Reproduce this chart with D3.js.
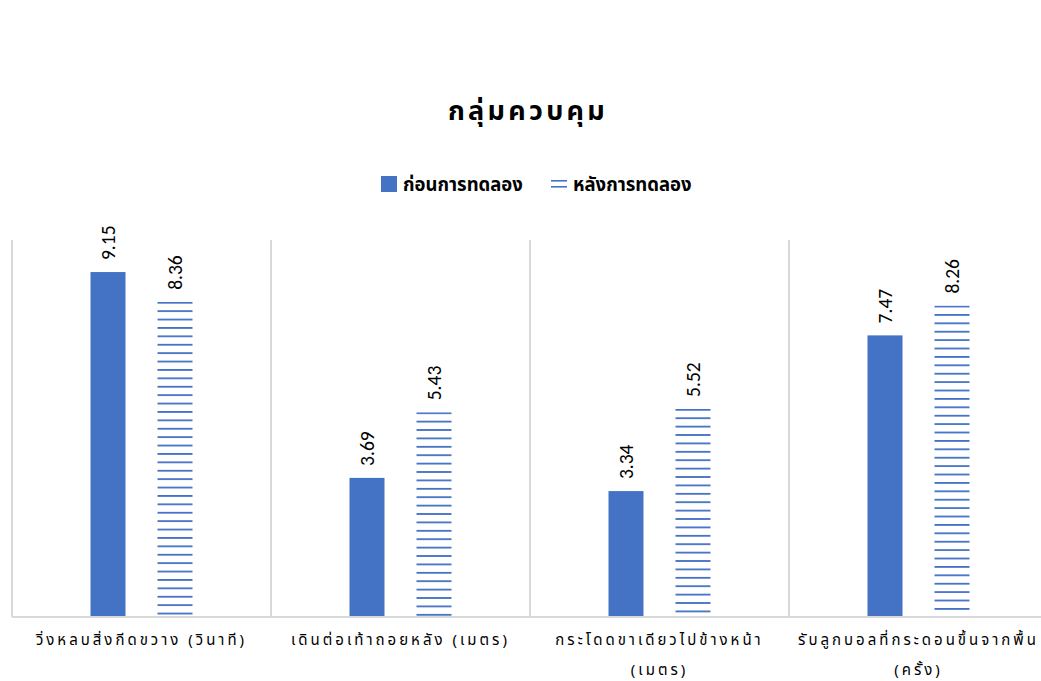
<!DOCTYPE html>
<html lang="th">
  <head>
    <meta charset="UTF-8" />
    <script src="https://cdn.jsdelivr.net/npm/d3@7"></script>
    <style>
      * {
        margin: 0;
        padding: 0;
      }
      body {
        background: #fff;
      }
      #container svg {
        display: block;
      }
    </style>
    <title>กลุ่มควบคุม</title>
  </head>
  <body>
    <div id="container"></div>
  </body>
  <script>
    const title = 'กลุ่มควบคุม';
    const categories = [
      ['วิ่งหลบสิ่งกีดขวาง (วินาที)'],
      ['เดินต่อเท้าถอยหลัง (เมตร)'],
      ['กระโดดขาเดียวไปข้างหน้า', '(เมตร)'],
      ['รับลูกบอลที่กระดอนขึ้นจากพื้น', '(ครั้ง)'],
    ];
    const seriesNames = ['ก่อนการทดลอง', 'หลังการทดลอง'];
    const beforeValues = [9.15, 3.69, 3.34, 7.47];
    const afterValues = [8.36, 5.43, 5.52, 8.26];

    const width = 1041;
    const height = 681;
    const plot = { left: 12, right: 1048, top: 240, bottom: 617 };
    const blue = '#4472c4';
    const grid = '#d9d9d9';
    const thaiFont = "Tahoma, 'Noto Sans Thai', 'Noto Sans', sans-serif";

    const svg = d3
      .select('#container')
      .append('svg')
      .attr('width', width)
      .attr('height', height);

    const x0 = d3
      .scaleBand()
      .domain(d3.range(categories.length))
      .range([plot.left, plot.right]);

    const bw = x0.bandwidth();
    const x1 = d3
      .scaleBand()
      .domain(seriesNames)
      .range([bw / 2 - 67, bw / 2 + 67])
      .paddingInner(32 / 67)
      .paddingOuter(16 / 67);

    const y = d3.scaleLinear().domain([0, 10]).range([plot.bottom, plot.top]);

    // title
    svg
      .append('text')
      .text(title)
      .attr('x', 528)
      .attr('y', 120)
      .attr('text-anchor', 'middle')
      .attr('font-family', thaiFont)
      .attr('font-weight', 'bold')
      .attr('font-size', 27)
      .attr('letter-spacing', 3.3)
      .attr('fill', '#000');

    // legend
    const legend = svg.append('g').attr('font-family', thaiFont);
    legend
      .append('rect')
      .attr('x', 381)
      .attr('y', 176)
      .attr('width', 16)
      .attr('height', 16)
      .attr('fill', blue);
    legend
      .append('text')
      .text(seriesNames[0])
      .attr('x', 403)
      .attr('y', 191)
      .attr('font-size', 18.5)
      .attr('font-weight', 'bold')
      .attr('fill', '#000');
    [181, 187].forEach((ly) => {
      legend
        .append('rect')
        .attr('x', 551)
        .attr('y', ly - 1)
        .attr('width', 16)
        .attr('height', 1.6)
        .attr('fill', blue);
    });
    legend
      .append('text')
      .text(seriesNames[1])
      .attr('x', 573)
      .attr('y', 191)
      .attr('font-size', 18.5)
      .attr('font-weight', 'bold')
      .attr('fill', '#000');

    // vertical gridlines between categories
    svg
      .append('g')
      .selectAll('line')
      .data(d3.range(categories.length + 1))
      .join('line')
      .attr('x1', (d) => plot.left + d * bw)
      .attr('x2', (d) => plot.left + d * bw)
      .attr('y1', plot.top)
      .attr('y2', plot.bottom)
      .attr('stroke', grid)
      .attr('stroke-width', 2);

    // hatch patterns, one per bar so lines start at the bar top
    const defs = svg.append('defs');
    afterValues.forEach((v, i) => {
      const p = defs
        .append('pattern')
        .attr('id', `hatch-${i}`)
        .attr('patternUnits', 'userSpaceOnUse')
        .attr('x', 0)
        .attr('y', y(v))
        .attr('width', 8)
        .attr('height', 8.4);
      p.append('rect')
        .attr('x', 0)
        .attr('y', 0)
        .attr('width', 8)
        .attr('height', 1.8)
        .attr('fill', blue);
    });

    const groups = svg
      .append('g')
      .selectAll('g')
      .data(categories)
      .join('g')
      .attr('transform', (d, i) => `translate(${x0(i)},0)`);

    // before bars
    groups
      .append('rect')
      .attr('x', x1(seriesNames[0]))
      .attr('y', (d, i) => y(beforeValues[i]))
      .attr('width', x1.bandwidth())
      .attr('height', (d, i) => y(0) - y(beforeValues[i]))
      .attr('fill', blue);

    // after bars
    groups
      .append('rect')
      .attr('x', x1(seriesNames[1]))
      .attr('y', (d, i) => y(afterValues[i]))
      .attr('width', x1.bandwidth())
      .attr('height', (d, i) => y(0) - y(afterValues[i]))
      .attr('fill', (d, i) => `url(#hatch-${i})`);

    // value labels
    [beforeValues, afterValues].forEach((vals, s) => {
      groups
        .append('text')
        .text((d, i) => vals[i].toFixed(2))
        .attr('transform', (d, i) => {
          const cx = x1(seriesNames[s]) + x1.bandwidth() / 2;
          return `translate(${cx},${y(vals[i]) - 12}) rotate(-90)`;
        })
        .attr('dominant-baseline', 'central')
        .attr('font-family', "Carlito, 'Liberation Sans', sans-serif")
        .attr('font-size', 19.5)
        .attr('fill', '#000');
    });

    // x axis line
    svg
      .append('line')
      .attr('x1', plot.left)
      .attr('x2', width)
      .attr('y1', plot.bottom)
      .attr('y2', plot.bottom)
      .attr('stroke', grid)
      .attr('stroke-width', 2);

    // category labels
    groups
      .append('text')
      .attr('text-anchor', 'middle')
      .attr('font-family', thaiFont)
      .attr('font-size', 15)
      .attr('letter-spacing', 3)
      .attr('fill', '#000')
      .selectAll('tspan')
      .data((d) => d)
      .join('tspan')
      .attr('x', bw / 2)
      .attr('y', (d, i) => 645 + i * 30)
      .text((d) => d);
  </script>
</html>
